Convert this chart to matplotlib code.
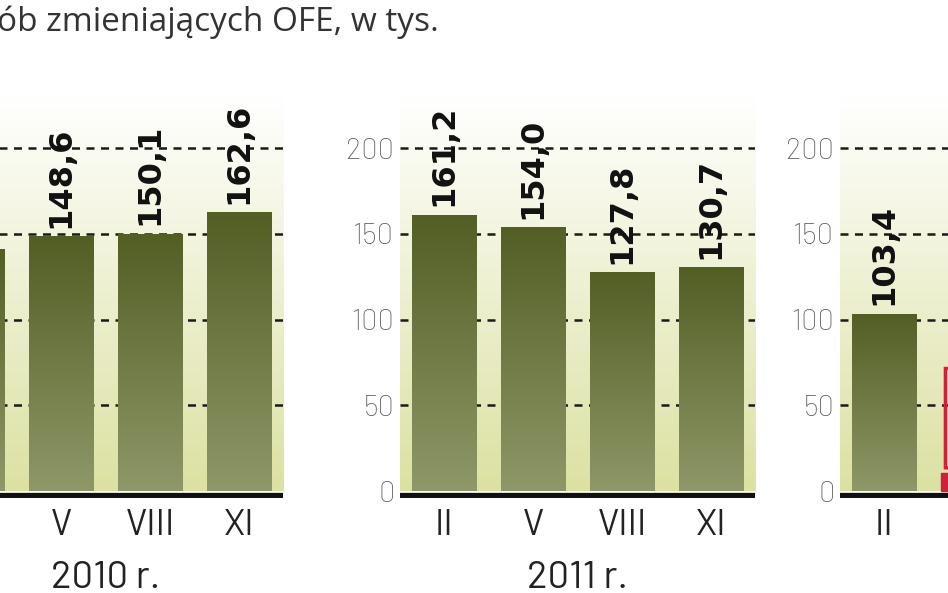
import numpy as np
import matplotlib
matplotlib.use("Agg")
from matplotlib import pyplot as plt
from matplotlib.patches import FancyBboxPatch

# data (thousands of people switching OFE)
months_2010 = ["II", "V", "VIII", "XI"]
values_2010 = [141.0, 148.6, 150.1, 162.6]
months_2011 = ["II", "V", "VIII", "XI"]
values_2011 = [161.2, 154.0, 127.8, 130.7]
months_2012 = ["II", "V"]
values_2012 = [103.4, 10.5]
colors_2012 = ["olive", "red"]

title = "ób zmieniających OFE, w tys."
years = ["2010 r.", "2011 r.", "2012 r."]
yticks = [0, 50, 100, 150, 200]

BARLOW = ["Barlow", "DejaVu Sans"]
TITLE_FONT = ["Open Sans", "DejaVu Sans"]
LABEL_FONT = ["DejaVu Sans"]
OLIVE_TOP = "#535e25"
OLIVE_BOT = "#8e9868"
RED = "#d0213a"


def _gradient(ax, extent, top, bottom, clip=None):
    c1 = np.array(matplotlib.colors.to_rgb(top))
    c2 = np.array(matplotlib.colors.to_rgb(bottom))
    t = np.linspace(0, 1, 256)[:, None]
    img = (c1 * (1 - t) + c2 * t)[:, None, :]
    im = ax.imshow(img, extent=extent, aspect="auto", origin="upper",
                   zorder=0 if clip is None else 2, interpolation="bicubic")
    if clip is not None:
        im.set_clip_path(clip)
    return im


def _panel(fig, left, months, values, year, colors=None):
    ax = fig.add_axes([left, 0.1604, 0.3745, 0.6767])
    xlim = (-0.494, 3.494)
    ylim = (-4, 230)

    _gradient(ax, (xlim[0], xlim[1], 0, 230), "#ffffff", "#dce1a2")

    for y in yticks[1:]:
        ax.axhline(y, color="#1a1a1a", lw=1.8, ls=(0, (3.2, 2.6)), zorder=1)

    x = list(range(len(values)))
    bars = ax.bar(x, values, width=0.72, color=OLIVE_TOP, zorder=2)
    for i, bar in enumerate(bars):
        c = colors[i] if colors else "olive"
        if c == "red":
            bar.set_color(RED)
            continue
        bx, bw, bh = bar.get_x(), bar.get_width(), bar.get_height()
        _gradient(ax, (bx, bx + bw, 0, bh), OLIVE_TOP, OLIVE_BOT, clip=bar)
        ax.annotate(f"{values[i]:.1f}".replace(".", ","), (x[i], bh),
                    xytext=(0, 6), textcoords="offset points",
                    rotation=90, ha="center", va="bottom",
                    fontsize=23, fontweight="bold", family=LABEL_FONT,
                    color="#111111", zorder=4)

    ax.axhline(-2.3, color="#111111", lw=3.8, zorder=3)

    ax.set_xlim(*xlim)
    ax.set_ylim(*ylim)
    ax.set_yticks(yticks)
    ax.set_yticklabels([str(v) for v in yticks], fontsize=21, color="#5e5e5e",
                       family=BARLOW, fontweight="light")
    ax.set_xticks(x)
    ax.set_xticklabels(months, fontsize=26, family=BARLOW, color="#222222")
    ax.tick_params(length=0, axis="y", pad=4)
    ax.tick_params(length=0, axis="x", pad=8)
    for s in ax.spines.values():
        s.set_visible(False)
    ax.text(0.5, -0.2, year, transform=ax.transAxes, ha="center", va="center",
            fontsize=27.5, family=BARLOW, color="#222222")
    return ax


fig = plt.figure(figsize=(9.48, 5.93), dpi=100)

_panel(fig, -0.0759, months_2010, values_2010, years[0])
_panel(fig, 0.4219, months_2011, values_2011, years[1])
ax3 = _panel(fig, 0.8861, months_2012, values_2012, years[2], colors=colors_2012)

# red callout box, mostly outside the visible area
box = FancyBboxPatch((0.69, 13.5), 1.6, 58, boxstyle="round,pad=0,rounding_size=0.08",
                     fc="none", ec=RED, lw=2.5, zorder=3, clip_on=False)
ax3.add_patch(box)

fig.text(-0.003, 0.962, title, ha="left", va="center", fontsize=24,
         family=TITLE_FONT, color="#333333")

fig.savefig("out.png", dpi=100)
